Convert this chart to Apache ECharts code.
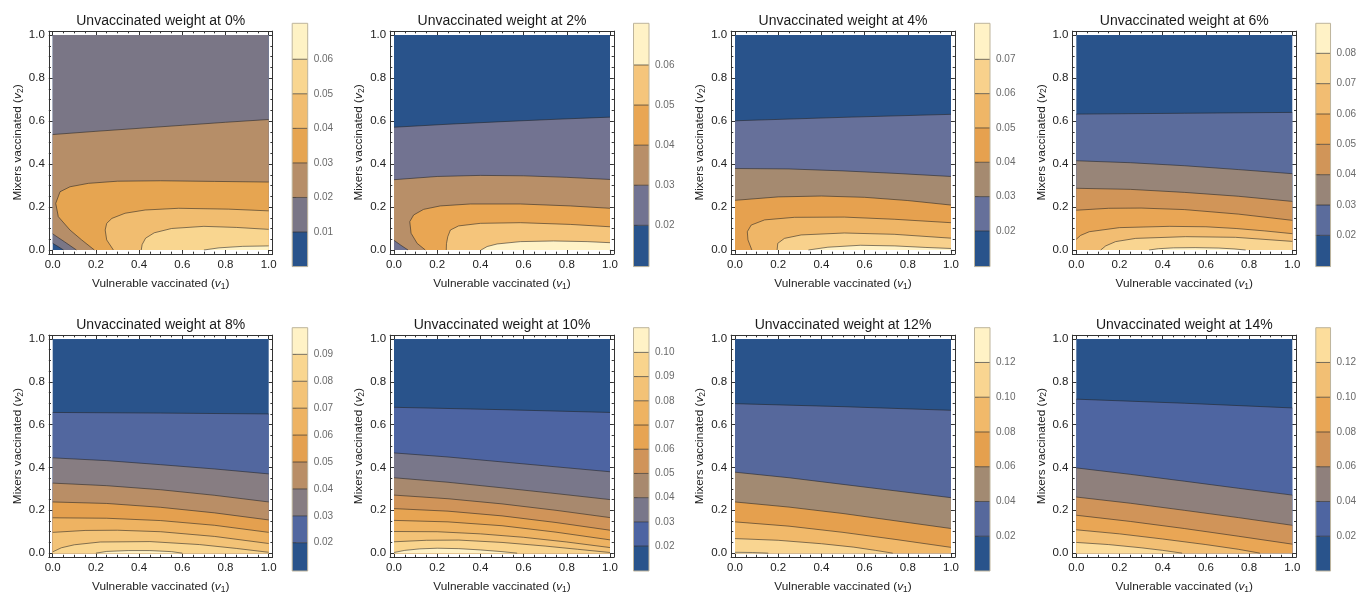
<!DOCTYPE html>
<html>
<head>
<meta charset="utf-8">
<script src="https://cdn.jsdelivr.net/npm/echarts@6/dist/echarts.min.js"></script>
<style>
  html, body { margin: 0; padding: 0; background: #fff; }
  #chart { width: 1359px; height: 595px; }
</style>
</head>
<body>
<div id="chart"></div>
<script>
// ---------------------------------------------------------------------------
// Data: contour levels, colour-bar ranges and contour lines (v1, v2) per panel.
// Each contour piece runs from one edge of the unit square to another, with
// the higher values lying on its right-hand side.
// ---------------------------------------------------------------------------
const panelTitles = [
  'Unvaccinated weight at 0%', 'Unvaccinated weight at 2%',
  'Unvaccinated weight at 4%', 'Unvaccinated weight at 6%',
  'Unvaccinated weight at 8%', 'Unvaccinated weight at 10%',
  'Unvaccinated weight at 12%', 'Unvaccinated weight at 14%'
];
const axisTickValues = [0, 0.2, 0.4, 0.6, 0.8, 1];
const axisTickLabels = ['0.0', '0.2', '0.4', '0.6', '0.8', '1.0'];
const axisMinorTickValues = [0.05, 0.1, 0.15, 0.25, 0.3, 0.35, 0.45, 0.5, 0.55, 0.65, 0.7, 0.75, 0.85, 0.9, 0.95];

// 0%
const levels0 = [0.01, 0.02, 0.03, 0.04, 0.05, 0.06];
const barRange0 = [0.0, 0.0704];
const contours0 = [
  [0.01, [[0.05, 0], [0.025, 0.016], [0, 0.031]]],
  [0.02, [[0, 0.537], [0.2, 0.552], [0.4, 0.566], [0.6, 0.58], [0.8, 0.594], [1, 0.607]]],
  [0.02, [[0.11, 0], [0.055, 0.038], [0, 0.075]]],
  [0.03, [[0.193, 0], [0.134, 0.047], [0.08, 0.093], [0.026, 0.155], [0.014, 0.217], [0.034, 0.271], [0.08, 0.294], [0.165, 0.31], [0.3, 0.32], [0.5, 0.322], [0.75, 0.319], [1, 0.316]]],
  [0.04, [[0.281, 0], [0.25, 0.047], [0.243, 0.093], [0.25, 0.124], [0.274, 0.147], [0.335, 0.171], [0.428, 0.186], [0.583, 0.194], [0.815, 0.19], [1, 0.182]]],
  [0.05, [[0.41, 0], [0.414, 0.025], [0.43, 0.055], [0.47, 0.08], [0.55, 0.1], [0.7, 0.11], [0.85, 0.105], [1, 0.096]]],
  [0.06, [[0.7, 0], [0.77, 0.01], [0.88, 0.017], [1, 0.019]]]
];

// 2%
const levels2 = [0.02, 0.03, 0.04, 0.05, 0.06];
const barRange2 = [0.0097, 0.0704];
const contours2 = [
  [0.02, [[0, 0.571], [0.25, 0.585], [0.5, 0.597], [0.75, 0.608], [1, 0.618]]],
  [0.03, [[0, 0.327], [0.2, 0.342], [0.4, 0.347], [0.6, 0.345], [0.8, 0.338], [1, 0.328]]],
  [0.03, [[0.065, 0], [0.032, 0.022], [0, 0.045]]],
  [0.04, [[0.145, 0], [0.107, 0.031], [0.079, 0.078], [0.073, 0.132], [0.091, 0.163], [0.137, 0.189], [0.214, 0.205], [0.353, 0.214], [0.585, 0.214], [0.816, 0.205], [1, 0.194]]],
  [0.05, [[0.242, 0], [0.243, 0.03], [0.249, 0.062], [0.261, 0.093], [0.299, 0.112], [0.4, 0.124], [0.585, 0.127], [0.816, 0.119], [1, 0.108]]],
  [0.06, [[0.403, 0], [0.431, 0.016], [0.477, 0.028], [0.585, 0.039], [0.739, 0.042], [0.894, 0.039], [1, 0.034]]]
];

// 4%
const levels4 = [0.02, 0.03, 0.04, 0.05, 0.06, 0.07];
const barRange4 = [0.0096, 0.0805];
const contours4 = [
  [0.02, [[0, 0.601], [0.25, 0.609], [0.5, 0.617], [0.75, 0.624], [1, 0.631]]],
  [0.03, [[0, 0.379], [0.25, 0.377], [0.5, 0.368], [0.75, 0.356], [1, 0.342]]],
  [0.04, [[0, 0.231], [0.2, 0.247], [0.4, 0.251], [0.6, 0.245], [0.8, 0.23], [1, 0.209]]],
  [0.05, [[0.078, 0], [0.06, 0.047], [0.057, 0.085], [0.075, 0.116], [0.137, 0.14], [0.275, 0.152], [0.506, 0.153], [0.737, 0.143], [1, 0.127]]],
  [0.06, [[0.195, 0], [0.198, 0.031], [0.229, 0.054], [0.306, 0.07], [0.506, 0.079], [0.737, 0.073], [1, 0.055]]],
  [0.07, [[0.34, 0], [0.43, 0.013], [0.58, 0.022], [0.74, 0.019], [0.88, 0.012], [1, 0.007]]]
];

// 6%
const levels6 = [0.02, 0.03, 0.04, 0.05, 0.06, 0.07, 0.08];
const barRange6 = [0.0097, 0.0899];
const contours6 = [
  [0.02, [[0, 0.632], [0.5, 0.636], [1, 0.64]]],
  [0.03, [[0, 0.415], [0.25, 0.406], [0.5, 0.392], [0.75, 0.374], [1, 0.355]]],
  [0.04, [[0, 0.287], [0.25, 0.282], [0.5, 0.268], [0.75, 0.25], [1, 0.226]]],
  [0.05, [[0, 0.185], [0.15, 0.194], [0.3, 0.195], [0.5, 0.188], [0.75, 0.167], [1, 0.138]]],
  [0.06, [[0, 0.05], [0.02, 0.068], [0.06, 0.085], [0.2, 0.104], [0.43, 0.11], [0.6, 0.108], [0.74, 0.1], [0.87, 0.089], [1, 0.076]]],
  [0.07, [[0.113, 0], [0.136, 0.019], [0.182, 0.039], [0.275, 0.054], [0.506, 0.062], [0.737, 0.059], [1, 0.04]]],
  [0.08, [[0.337, 0], [0.38, 0.006], [0.45, 0.01], [0.55, 0.011], [0.66, 0.009], [0.73, 0.005], [0.784, 0]]]
];

// 8%
const levels8 = [0.02, 0.03, 0.04, 0.05, 0.06, 0.07, 0.08, 0.09];
const barRange8 = [0.0095, 0.0999];
const contours8 = [
  [0.02, [[0, 0.657], [0.5, 0.654], [1, 0.65]]],
  [0.03, [[0, 0.445], [0.25, 0.432], [0.5, 0.413], [0.75, 0.393], [1, 0.37]]],
  [0.04, [[0, 0.327], [0.25, 0.315], [0.5, 0.296], [0.75, 0.27], [1, 0.239]]],
  [0.05, [[0, 0.239], [0.25, 0.232], [0.5, 0.214], [0.75, 0.188], [1, 0.155]]],
  [0.06, [[0, 0.165], [0.25, 0.163], [0.5, 0.152], [0.75, 0.13], [1, 0.097]]],
  [0.07, [[0, 0.097], [0.15, 0.106], [0.3, 0.107], [0.5, 0.1], [0.75, 0.078], [1, 0.045]]],
  [0.08, [[0, 0.006], [0.04, 0.025], [0.1, 0.039], [0.22, 0.052], [0.45, 0.054], [0.68, 0.04], [0.85, 0.022], [0.95, 0.01], [1, 0.004]]],
  [0.09, [[0.2, 0], [0.25, 0.008], [0.35, 0.012], [0.45, 0.012], [0.55, 0.007], [0.6, 0]]]
];

// 10%
const levels10 = [0.02, 0.03, 0.04, 0.05, 0.06, 0.07, 0.08, 0.09, 0.10];
const barRange10 = [0.0097, 0.1102];
const contours10 = [
  [0.02, [[0, 0.681], [0.5, 0.67], [1, 0.657]]],
  [0.03, [[0, 0.468], [0.25, 0.449], [0.5, 0.426], [0.75, 0.403], [1, 0.38]]],
  [0.04, [[0, 0.352], [0.25, 0.331], [0.5, 0.305], [0.75, 0.278], [1, 0.25]]],
  [0.05, [[0, 0.271], [0.25, 0.254], [0.5, 0.23], [0.75, 0.2], [1, 0.166]]],
  [0.06, [[0, 0.208], [0.25, 0.196], [0.5, 0.174], [0.75, 0.143], [1, 0.107]]],
  [0.07, [[0, 0.153], [0.25, 0.146], [0.5, 0.128], [0.75, 0.098], [1, 0.062]]],
  [0.08, [[0, 0.101], [0.2, 0.1], [0.4, 0.09], [0.6, 0.074], [0.8, 0.052], [1, 0.026]]],
  [0.09, [[0, 0.053], [0.15, 0.06], [0.3, 0.061], [0.5, 0.05], [0.7, 0.033], [0.85, 0.018], [1, 0.003]]],
  [0.10, [[0, 0.003], [0.05, 0.013], [0.12, 0.02], [0.2, 0.023], [0.3, 0.021], [0.4, 0.015], [0.5, 0.007], [0.57, 0]]]
];

// 12%
const levels12 = [0.02, 0.04, 0.06, 0.08, 0.10, 0.12];
const barRange12 = [0.0, 0.14];
const contours12 = [
  [0.02, [[0, 0.698], [0.5, 0.684], [1, 0.667]]],
  [0.04, [[0, 0.378], [0.25, 0.352], [0.5, 0.321], [0.75, 0.29], [1, 0.259]]],
  [0.06, [[0, 0.239], [0.25, 0.215], [0.5, 0.185], [0.75, 0.15], [1, 0.115]]],
  [0.08, [[0, 0.146], [0.25, 0.126], [0.5, 0.097], [0.75, 0.063], [1, 0.027]]],
  [0.10, [[0, 0.068], [0.2, 0.06], [0.4, 0.044], [0.55, 0.028], [0.65, 0.013], [0.73, 0]]],
  [0.12, [[0, 0.004], [0.08, 0.003], [0.154, 0]]]
];

// 14%
const levels14 = [0.02, 0.04, 0.06, 0.08, 0.10, 0.12];
const barRange14 = [0.0, 0.14];
const contours14 = [
  [0.02, [[0, 0.719], [0.5, 0.7], [1, 0.678]]],
  [0.04, [[0, 0.398], [0.25, 0.368], [0.5, 0.336], [0.75, 0.303], [1, 0.271]]],
  [0.06, [[0, 0.262], [0.25, 0.233], [0.5, 0.2], [0.75, 0.166], [1, 0.13]]],
  [0.08, [[0, 0.177], [0.25, 0.148], [0.5, 0.115], [0.75, 0.079], [1, 0.042]]],
  [0.10, [[0, 0.109], [0.2, 0.09], [0.4, 0.066], [0.6, 0.04], [0.75, 0.018], [0.85, 0]]],
  [0.12, [[0, 0.05], [0.15, 0.04], [0.3, 0.025], [0.4, 0.013], [0.49, 0]]]
];

// Band colours, lowest band first (one more than the number of levels).
const bandColors0 = ['#29538b', '#7a7686', '#b68e68', '#e6a551', '#f1bd70', '#f9d690', '#fef2c5'];
const bandColors2 = ['#29538b', '#727391', '#b88f68', '#e9a653', '#f5c57b', '#fff2c6'];
const bandColors4 = ['#29538b', '#66709a', '#a58a70', '#e6a14f', '#efb667', '#f8d18c', '#fff2c6'];
const bandColors6 = ['#29538b', '#5b6c9c', '#988578', '#d19558', '#e9a655', '#f2bd72', '#f9d591', '#fff2c6'];
const bandColors8 = ['#29538b', '#52679f', '#877d82', '#b98e66', '#e4a04f', '#eeb362', '#f3c377', '#f9d690', '#fff2c6'];
const bandColors10 = ['#29538b', '#4d64a2', '#79778a', '#a8896e', '#d09459', '#e7a452', '#eeb362', '#f3c276', '#f9d48d', '#fff2c6'];
const bandColors12 = ['#29538b', '#56689c', '#a28a72', '#e5a04e', '#f1b96a', '#f9d591', '#fff2c6'];
const bandColors14 = ['#29538b', '#4e65a1', '#8f807c', '#d09459', '#e9a655', '#f2bf74', '#fcdd9c'];

const panels = [
  { levels: levels0, barRange: barRange0, contours: contours0, colors: bandColors0 },
  { levels: levels2, barRange: barRange2, contours: contours2, colors: bandColors2 },
  { levels: levels4, barRange: barRange4, contours: contours4, colors: bandColors4 },
  { levels: levels6, barRange: barRange6, contours: contours6, colors: bandColors6 },
  { levels: levels8, barRange: barRange8, contours: contours8, colors: bandColors8 },
  { levels: levels10, barRange: barRange10, contours: contours10, colors: bandColors10 },
  { levels: levels12, barRange: barRange12, contours: contours12, colors: bandColors12 },
  { levels: levels14, barRange: barRange14, contours: contours14, colors: bandColors14 }
];

// ---------------------------------------------------------------------------
// Layout
// ---------------------------------------------------------------------------
const FONT = '"Liberation Sans", Arial, Helvetica, sans-serif';
const colX = [52.7, 394, 735, 1076.3];   // pixel left of v1 = 0
const rowY = [35, 339];                  // pixel top of v2 = 1
const plotW = 216, plotH = 215, PAD = 0.018;
const barTop = [23.3, 327.7], barH = 243.3, barW = 15.5, barGap = 23.5;
const titleTop = [14.5, 318.5];
const LINE_COLOR = 'rgba(35,35,35,0.62)';

// Position along the square's boundary, clockwise from (0,0): left, top, right, bottom.
function edgePos(p) {
  const x = p[0], y = p[1];
  const d = [x, 1 - y, 1 - x, y];
  const m = d.indexOf(Math.min.apply(null, d));
  return m === 0 ? y : m === 1 ? 1 + x : m === 2 ? 3 - y : 4 - x;
}
const CORNERS = [[0, [0, 0]], [1, [0, 1]], [2, [1, 1]], [3, [1, 0]]];

// Polygon(s) covering the part of the square above a level, built from the
// level's contour pieces joined by clockwise walks along the boundary.
function highRegion(pieces) {
  const used = pieces.map(() => false);
  const rings = [];
  for (let s = 0; s < pieces.length; s++) {
    if (used[s]) continue;
    const ring = [];
    let cur = s;
    for (;;) {
      used[cur] = true;
      ring.push.apply(ring, pieces[cur]);
      const te = edgePos(pieces[cur][pieces[cur].length - 1]);
      let next = -1, best = Infinity;
      pieces.forEach((q, j) => {
        if (used[j] && j !== s) return;
        const d = ((edgePos(q[0]) - te) % 4 + 4) % 4;
        if (d < best) { best = d; next = j; }
      });
      CORNERS.map(c => [((c[0] - te) % 4 + 4) % 4, c[1]])
        .filter(c => c[0] > 1e-9 && c[0] < best)
        .sort((a, b) => a[0] - b[0])
        .forEach(c => ring.push(c[1]));
      if (next === s || next < 0) break;
      cur = next;
    }
    rings.push(ring);
  }
  return rings;
}

function tickLabel(v) {
  const i = axisTickValues.findIndex(t => Math.abs(t - v) < 1e-9);
  return i >= 0 ? axisTickLabels[i] : '';
}

const nameRich = {
  t: { fontFamily: FONT, fontSize: 11.8, color: '#222' },
  v: { fontFamily: FONT, fontSize: 11.8, color: '#222', fontStyle: 'italic' },
  s: { fontFamily: FONT, fontSize: 8.5, color: '#222', verticalAlign: 'bottom', padding: [5, 0, 0, 0] }
};

function frameAxis(gridIndex, position, major, extra) {
  const base = {
    type: 'value', gridIndex: gridIndex, position: position,
    min: -PAD, max: 1 + PAD,
    axisLine: { show: major, onZero: false, lineStyle: { color: '#333', width: 1 } },
    axisTick: {
      show: true, inside: true, length: major ? 4 : 2.2,
      customValues: major ? axisTickValues : axisMinorTickValues,
      lineStyle: { color: '#333', width: 1 }
    },
    axisLabel: { show: false },
    splitLine: { show: false }
  };
  return Object.assign(base, extra || {});
}

const option = {
  animation: false,
  backgroundColor: '#fff',
  title: [], grid: [], xAxis: [], yAxis: [], series: []
};

panels.forEach((p, i) => {
  const col = i % 4, row = Math.floor(i / 4);
  const x0 = colX[col], y0 = rowY[row];

  option.title.push({
    text: panelTitles[i], left: x0 + plotW / 2, top: titleTop[row], textAlign: 'center', padding: 0,
    textStyle: { fontFamily: FONT, fontSize: 14, fontWeight: 'normal', color: '#1a1a1a' }
  });

  // --- contour plot ---
  const g = option.grid.length;
  option.grid.push({
    left: x0 - PAD * plotW, top: y0 - PAD * plotH,
    width: plotW * (1 + 2 * PAD), height: plotH * (1 + 2 * PAD)
  });
  const xi = option.xAxis.length, yi = option.yAxis.length;
  const labelStyle = { show: true, customValues: axisTickValues, formatter: tickLabel,
    fontFamily: FONT, fontSize: 11.5, color: '#222' };
  option.xAxis.push(
    frameAxis(g, 'bottom', true, {
      axisLabel: Object.assign({ margin: 5 }, labelStyle),
      name: '{t|Vulnerable vaccinated (}{v|v}{s|1}{t|)}', nameLocation: 'middle', nameGap: 23,
      nameTextStyle: { rich: nameRich }
    }),
    frameAxis(g, 'bottom', false),
    frameAxis(g, 'top', true),
    frameAxis(g, 'top', false)
  );
  option.yAxis.push(
    frameAxis(g, 'left', true, {
      axisLabel: Object.assign({ margin: 4 }, labelStyle),
      name: '{t|Mixers vaccinated (}{v|v}{s|2}{t|)}', nameLocation: 'middle', nameGap: 24, nameRotate: 90,
      nameTextStyle: { rich: nameRich }
    }),
    frameAxis(g, 'left', false),
    frameAxis(g, 'right', true),
    frameAxis(g, 'right', false)
  );

  const shapes = [{ pts: [[0, 0], [0, 1], [1, 1], [1, 0]], color: p.colors[0] }];
  p.levels.forEach((lv, k) => {
    const pieces = p.contours.filter(c => c[0] === lv).map(c => c[1]);
    highRegion(pieces).forEach(r => shapes.push({ pts: r, color: p.colors[k + 1] }));
  });
  option.series.push({
    type: 'custom', xAxisIndex: xi, yAxisIndex: yi, silent: true, clip: false, z: 2,
    data: shapes.map(() => [0.5, 0.5]),
    renderItem: (params, api) => {
      const s = shapes[params.dataIndex];
      return { type: 'polygon', shape: { points: s.pts.map(q => api.coord(q)) },
        style: { fill: s.color } };
    }
  });
  const lines = p.contours.map(c => c[1]);
  option.series.push({
    type: 'custom', xAxisIndex: xi, yAxisIndex: yi, silent: true, clip: false, z: 3,
    data: lines.map(() => [0.5, 0.5]),
    renderItem: (params, api) => ({
      type: 'polyline', shape: { points: lines[params.dataIndex].map(q => api.coord(q)) },
      style: { stroke: LINE_COLOR, lineWidth: 0.9, fill: null }
    })
  });

  // --- colour bar ---
  const gb = option.grid.length;
  option.grid.push({ left: x0 + plotW + barGap, top: barTop[row], width: barW, height: barH });
  const bxi = option.xAxis.length, byi = option.yAxis.length;
  option.xAxis.push({ type: 'value', gridIndex: gb, min: 0, max: 1, show: false });
  option.yAxis.push({
    type: 'value', gridIndex: gb, position: 'right', min: p.barRange[0], max: p.barRange[1],
    axisLine: { show: false },
    axisTick: { show: true, inside: false, length: 4, customValues: p.levels, lineStyle: { color: '#8a8a8a', width: 1 } },
    axisLabel: { show: true, customValues: p.levels, formatter: v => v.toFixed(2), margin: 6,
      fontFamily: FONT, fontSize: 10, color: '#6a6a6a' },
    splitLine: { show: false }
  });
  const bounds = [p.barRange[0]].concat(p.levels, [p.barRange[1]]);
  const bands = p.colors.map((c, k) => ({ lo: bounds[k], hi: bounds[k + 1], color: c }));
  option.series.push({
    type: 'custom', xAxisIndex: bxi, yAxisIndex: byi, silent: true, clip: false,
    data: bands.map(b => [0.5, (b.lo + b.hi) / 2]),
    renderItem: (params, api) => {
      const b = bands[params.dataIndex];
      const a = api.coord([0, b.hi]), c = api.coord([1, b.lo]);
      const children = [{ type: 'rect', shape: { x: a[0], y: a[1], width: c[0] - a[0], height: c[1] - a[1] },
        style: { fill: b.color } }];
      if (params.dataIndex < bands.length - 1) {
        children.push({ type: 'line', shape: { x1: a[0], y1: a[1], x2: c[0], y2: a[1] },
          style: { stroke: LINE_COLOR, lineWidth: 1 }, z2: 5 });
      }
      if (params.dataIndex === bands.length - 1) {
        const lo = api.coord([0, p.barRange[0]]);
        children.push({ type: 'rect', shape: { x: a[0], y: a[1], width: c[0] - a[0], height: lo[1] - a[1] },
          style: { fill: null, stroke: '#bdb49c', lineWidth: 1 }, z2: 6 });
      }
      return { type: 'group', children: children };
    }
  });
});

const chart = echarts.init(document.getElementById('chart'), null, { renderer: 'canvas' });
chart.setOption(option);
</script>
</body>
</html>
